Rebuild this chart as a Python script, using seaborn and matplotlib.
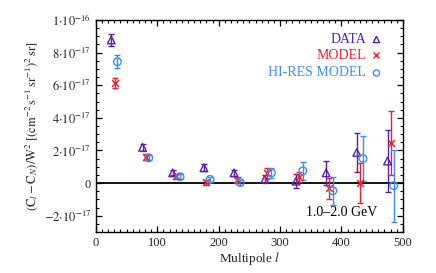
import matplotlib
matplotlib.use("Agg")
import matplotlib.pyplot as plt
import numpy as np
import pandas as pd
import seaborn as sns
from matplotlib.ticker import FixedLocator, FixedFormatter, MultipleLocator

# 데이터 (단위: 1e-17)
data_l = [25, 76, 125, 176, 225, 275, 326, 375, 425, 475]
data_cl = [8.77, 2.19, 0.63, 0.94, 0.63, 0.23, 0.12, 0.63, 1.88, 1.35]
data_err = [0.35, 0.2, 0.15, 0.2, 0.2, 0.25, 0.45, 0.72, 1.2, 1.9]

model_l = [31, 81, 131, 180, 230, 279, 331, 380, 430, 481]
model_cl = [6.15, 1.61, 0.43, 0.06, 0.18, 0.6, 0.39, -0.33, 0.02, 2.47]
model_err = [0.3, 0.2, 0.15, 0.15, 0.2, 0.35, 0.3, 0.65, 1.23, 1.95]

hires_l = [35, 86, 137, 186, 235, 286, 337, 386, 435, 485]
hires_cl = [7.44, 1.55, 0.39, 0.23, 0.04, 0.63, 0.75, -0.47, 1.51, -0.16]
hires_err = [0.4, 0.15, 0.15, 0.15, 0.15, 0.3, 0.55, 0.85, 1.36, 2.2]

series_names = ["DATA", "MODEL", "HI-RES MODEL"]
series_colors = ["#5a1fa8", "#f01e28", "#3a8ef0"]
series_markers = ["^", "x", "o"]

y_ticks = [-2, 0, 2, 4, 6, 8, 10]
y_ticklabels = [r"$-2{\cdot}10^{-17}$", "0", r"$2{\cdot}10^{-17}$", r"$4{\cdot}10^{-17}$",
                r"$6{\cdot}10^{-17}$", r"$8{\cdot}10^{-17}$", r"$1{\cdot}10^{-16}$"]

sns.set_style("ticks")
plt.rcParams["font.family"] = ["Liberation Serif", "DejaVu Serif"]
plt.rcParams["mathtext.fontset"] = "stix"

frames = []
for name, ls, cl, err in [("DATA", data_l, data_cl, data_err),
                          ("MODEL", model_l, model_cl, model_err),
                          ("HI-RES MODEL", hires_l, hires_cl, hires_err)]:
    frames.append(pd.DataFrame({"l": ls, "cl": cl, "err": err, "series": name}))
df = pd.concat(frames, ignore_index=True)

fig = plt.figure(figsize=(4.36, 2.73), dpi=100)
ax = fig.add_axes([0.220, 0.150, 0.704, 0.777])

ax.axhline(0, color="black", lw=1.3, zorder=1)

for name, color, marker in zip(series_names, series_colors, series_markers):
    sub = df[df["series"] == name]
    ax.errorbar(sub["l"], sub["cl"], yerr=sub["err"], fmt="none", ecolor=color,
                elinewidth=1.0, capsize=2.5, capthick=1.0, zorder=2)
    if marker == "x":
        sns.scatterplot(data=sub, x="l", y="cl", marker="x", color=color, s=24,
                        linewidth=1.1, ax=ax, zorder=3, legend=False)
    else:
        sns.scatterplot(data=sub, x="l", y="cl", marker=marker, facecolor="none",
                        edgecolor=color, s=30, linewidth=1.0, ax=ax, zorder=3, legend=False)

ax.set_xlim(0, 500)
ax.set_ylim(-3, 10)
ax.xaxis.set_major_locator(MultipleLocator(100))
ax.xaxis.set_minor_locator(MultipleLocator(10))
ax.yaxis.set_major_locator(FixedLocator(y_ticks))
ax.yaxis.set_major_formatter(FixedFormatter(y_ticklabels))
ax.yaxis.set_minor_locator(MultipleLocator(0.5))
ax.tick_params(which="both", direction="in", top=True, right=True, labelsize=9, color="black")
ax.tick_params(which="major", length=4, width=0.9)
ax.tick_params(which="minor", length=2, width=0.8)
for sp in ax.spines.values():
    sp.set_linewidth(1.0)
    sp.set_color("black")

ax.set_xlabel(r"Multipole $\it{l}$", fontsize=9.5, labelpad=1)
ax.set_ylabel(r"$(\mathrm{C}_l-\mathrm{C}_N)/\mathrm{W}^2\ [(\mathrm{cm}^{-2}\,\mathrm{s}^{-1}\,\mathrm{sr}^{-1})^2\,\mathrm{sr}]$",
              fontsize=9, labelpad=3)

# 범례 (텍스트 + 기호)
legend_y = [8.8, 7.85, 6.75]
for name, color, marker, yy in zip(series_names, series_colors, series_markers, legend_y):
    ax.text(440, yy, name, color=color, fontsize=10, ha="right", va="center")
    if marker == "x":
        ax.scatter([457], [yy], marker="x", color=color, s=20, linewidths=1.0)
    else:
        ax.scatter([457], [yy], marker=marker, facecolors="none", edgecolors=color, s=20, linewidths=1.0)

ax.text(400, -1.8, "1.0–2.0 GeV", fontsize=10, ha="center", va="center", color="black")

fig.savefig("out.png", dpi=100)
